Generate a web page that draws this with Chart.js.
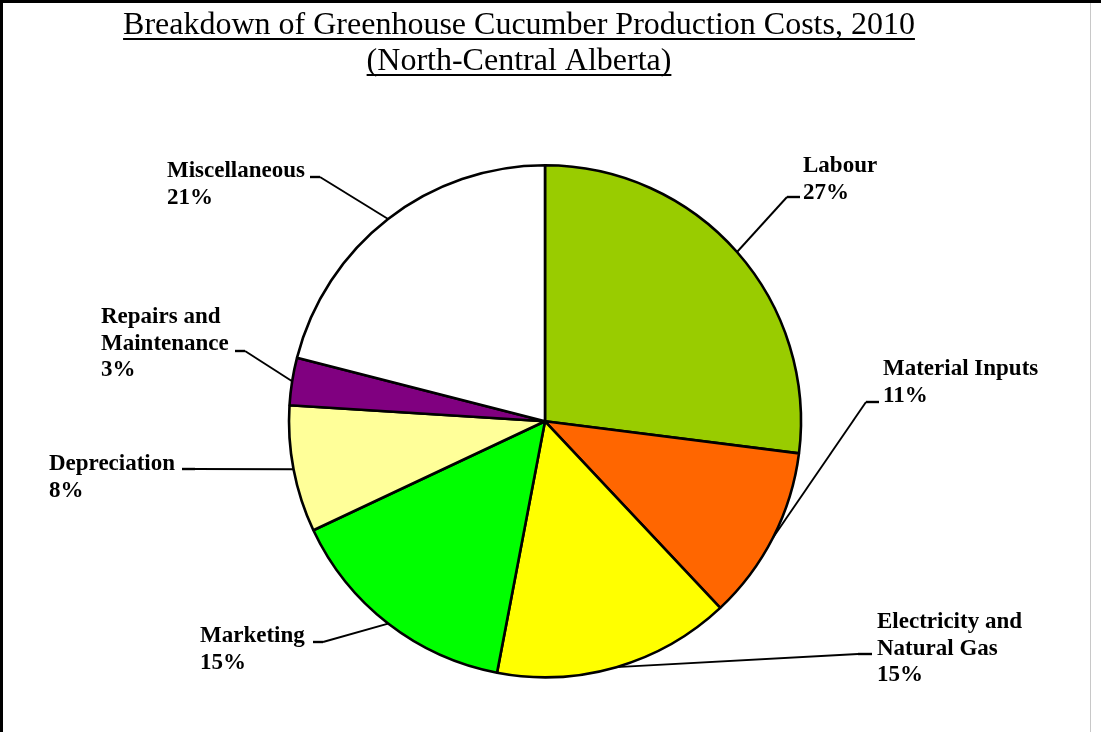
<!DOCTYPE html>
<html>
<head>
<meta charset="utf-8">
<script src="https://cdn.jsdelivr.net/npm/chart.js@4"></script>
<style>
  html, body { margin: 0; padding: 0; background: #fff; }
  canvas { display: block; }
</style>
</head>
<body>
<canvas id="c" width="1101" height="732"></canvas>
<script>
// ---- Data ----
const categories = ['Labour', 'Material Inputs', 'Electricity and Natural Gas', 'Marketing', 'Depreciation', 'Repairs and Maintenance', 'Miscellaneous'];
const shares = [27, 11, 15, 15, 8, 3, 21];
const labelNameLines = [['Labour'], ['Material Inputs'], ['Electricity and', 'Natural Gas'], ['Marketing'], ['Depreciation'], ['Repairs and', 'Maintenance'], ['Miscellaneous']];
const titleLines = ['Breakdown of Greenhouse Cucumber Production Costs, 2010', '(North-Central Alberta)'];

// ---- Style / layout ----
const sliceColors = ['#99CC00', '#FF6600', '#FFFF00', '#00FF00', '#FFFF99', '#800080', '#FFFFFF'];
const labelLayout = [
  { tx: 803, ty: 172, elbow: [787, 197], end: [800, 197] },
  { tx: 883, ty: 375, elbow: [866, 402], end: [879, 402] },
  { tx: 877, ty: 628, elbow: [858, 654], end: [872, 654] },
  { tx: 200, ty: 642, elbow: [323, 642], end: [313, 642] },
  { tx: 49,  ty: 470, elbow: [195, 469], end: [182, 469] },
  { tx: 101, ty: 323, elbow: [245, 351], end: [235, 351] },
  { tx: 167, ty: 177, elbow: [320, 177], end: [310, 177] }
];
const LABEL_FONT = 'bold 23px "Liberation Serif", "Times New Roman", serif';
const TITLE_FONT = '32px "Liberation Serif", "Times New Roman", serif';
const LINE_H = 26.5;

const framePlugin = {
  id: 'frame',
  beforeDraw(chart) {
    const ctx = chart.ctx;
    ctx.save();
    ctx.fillStyle = '#fff';
    ctx.fillRect(0, 0, chart.width, chart.height);
    ctx.restore();
  },
  afterDraw(chart) {
    const ctx = chart.ctx;
    ctx.save();
    // frame
    ctx.fillStyle = '#000';
    ctx.fillRect(0, 0, 3, chart.height);
    ctx.fillRect(0, 0, chart.width, 3);
    ctx.fillStyle = '#c8c8c8';
    ctx.fillRect(1090, 3, 1, chart.height);

    // title with underline
    ctx.font = TITLE_FONT;
    ctx.fillStyle = '#000';
    ctx.textAlign = 'center';
    ctx.textBaseline = 'alphabetic';
    const tcx = 519;
    const tys = [34, 70];
    titleLines.forEach((t, i) => {
      ctx.fillText(t, tcx, tys[i]);
      const w = ctx.measureText(t).width;
      ctx.fillRect(tcx - w / 2, tys[i] + 4, w, 2);
    });

    // labels + leader lines
    const meta = chart.getDatasetMeta(0);
    ctx.font = LABEL_FONT;
    ctx.textAlign = 'left';
    meta.data.forEach((arc, i) => {
      const p = arc.getProps(['x', 'y', 'startAngle', 'endAngle', 'outerRadius'], true);
      const mid = (p.startAngle + p.endAngle) / 2;
      const ex = p.x + Math.cos(mid) * p.outerRadius;
      const ey = p.y + Math.sin(mid) * p.outerRadius;
      const L = labelLayout[i];
      ctx.strokeStyle = '#000';
      ctx.lineWidth = 1.9;
      ctx.beginPath();
      ctx.moveTo(ex, ey);
      ctx.lineTo(L.elbow[0], L.elbow[1]);
      ctx.stroke();
      ctx.lineWidth = 2.4;
      ctx.beginPath();
      ctx.moveTo(L.elbow[0], L.elbow[1]);
      ctx.lineTo(L.end[0], L.end[1]);
      ctx.stroke();
      const lines = labelNameLines[i].concat([shares[i] + '%']);
      lines.forEach((ln, k) => {
        ctx.fillText(ln, L.tx, L.ty + k * LINE_H);
      });
    });
    ctx.restore();
  }
};

new Chart(document.getElementById('c'), {
  type: 'pie',
  data: {
    labels: categories,
    datasets: [{
      data: shares,
      backgroundColor: sliceColors,
      borderColor: '#000',
      borderWidth: 2.6
    }]
  },
  options: {
    responsive: false,
    animation: false,
    devicePixelRatio: 1,
    layout: { padding: { left: 0, right: 11, top: 164, bottom: 53.4 } },
    plugins: {
      legend: { display: false },
      tooltip: { enabled: false },
      title: { display: false }
    }
  },
  plugins: [framePlugin]
});
</script>
</body>
</html>
